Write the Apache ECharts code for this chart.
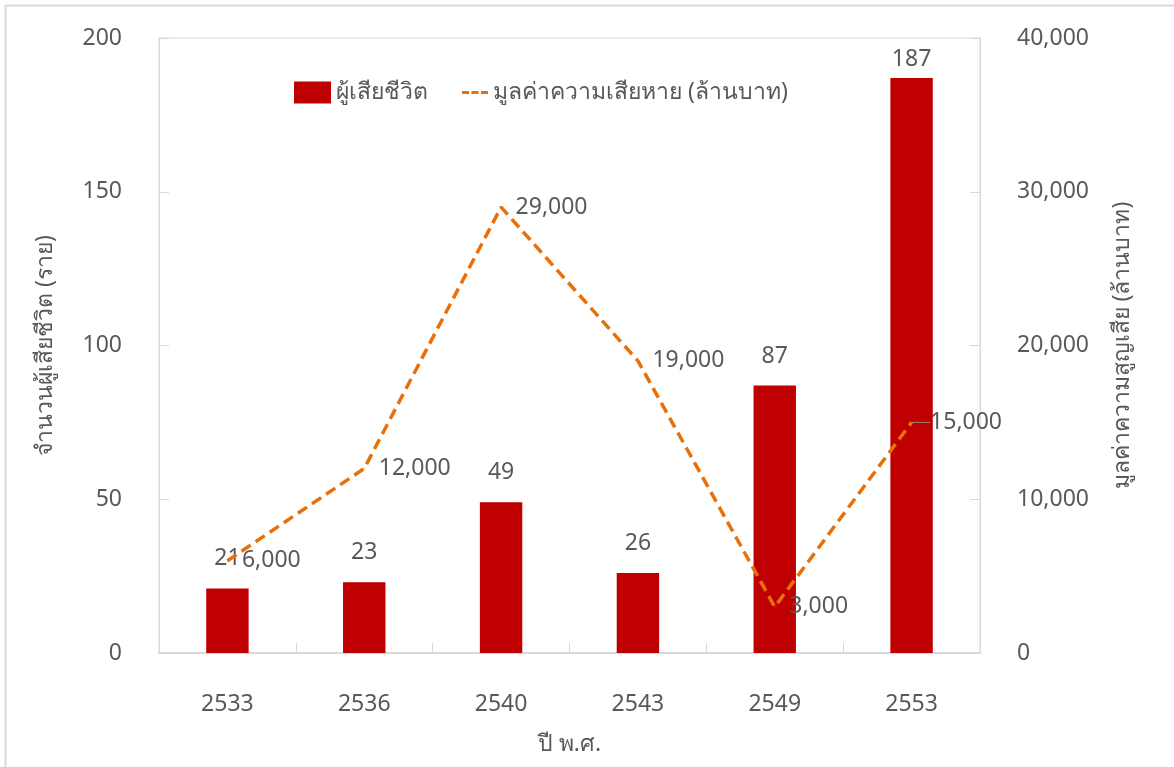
<!DOCTYPE html>
<html>
<head>
<meta charset="utf-8">
<script src="https://cdn.jsdelivr.net/npm/echarts@6/dist/echarts.min.js"></script>
<style>
  html, body { margin: 0; padding: 0; background: #fff; }
  #chart { width: 1174px; height: 767px; }
</style>
</head>
<body>
<div id="chart"></div>
<script>
// Years (Buddhist Era)
const years = ['2533', '2536', '2540', '2543', '2549', '2553'];
// Deaths per event (persons)
const deaths = [21, 23, 49, 26, 87, 187];
// Damage value (million baht)
const damage = [6000, 12000, 29000, 19000, 3000, 15000];
// Axis ticks
const leftTicks = [0, 50, 100, 150, 200];
const rightTicks = [0, 10000, 20000, 30000, 40000];

const seriesNames = ['ผู้เสียชีวิต', 'มูลค่าความเสียหาย (ล้านบาท)'];
const axisNames = { x: 'ปี พ.ศ.', left: 'จำนวนผู้เสียชีวิต (ราย)', right: 'มูลค่าความสูญเสีย (ล้านบาท)' };

const FONT = '"Noto Sans", "Open Sans", sans-serif';
const TEXT = '#595959';
const GRID_LINE = '#d9d9d9';
const BAR = '#C00000';
const LINE = '#E8700A';
const FS = 23;

const fmt = v => Number(v).toLocaleString('en-US');
const last = damage.length - 1;

const chart = echarts.init(document.getElementById('chart'), null, { renderer: 'canvas' });

chart.setOption({
  backgroundColor: '#fff',
  textStyle: { fontFamily: FONT, color: TEXT },
  animation: false,
  graphic: [{
    type: 'rect',
    shape: { x: 5.5, y: 5.5, width: 1300, height: 900 },
    style: { fill: 'none', stroke: GRID_LINE, lineWidth: 2 },
    silent: true
  }],
  legend: [{
    data: [{ name: seriesNames[0], icon: 'rect' }],
    left: 289, top: 76,
    itemWidth: 37, itemHeight: 22, itemGap: 5,
    textStyle: { fontSize: FS, color: TEXT, fontFamily: FONT }
  }, {
    data: [{ name: seriesNames[1], icon: 'path://M0,0h7v3h-7zM9.5,0h7v3h-7zM19,0h7v3h-7z' }],
    left: 457, top: 76,
    itemWidth: 26, itemHeight: 3, itemGap: 5,
    textStyle: { fontSize: FS, color: TEXT, fontFamily: FONT }
  }],
  grid: {
    left: 159, right: 194, top: 38, bottom: 114,
    show: true, borderColor: GRID_LINE, borderWidth: 1, backgroundColor: 'transparent'
  },
  xAxis: {
    type: 'category',
    data: years,
    name: axisNames.x,
    nameLocation: 'middle',
    nameGap: 80,
    nameTextStyle: { fontSize: FS, color: TEXT, fontFamily: FONT },
    axisLine: { lineStyle: { color: GRID_LINE, width: 2 } },
    axisTick: { show: true, inside: true, length: 10, lineStyle: { color: GRID_LINE } },
    axisLabel: { fontSize: FS, color: TEXT, margin: 40, fontFamily: FONT },
    splitLine: { show: false }
  },
  yAxis: [{
    type: 'value',
    min: leftTicks[0], max: leftTicks[leftTicks.length - 1], interval: 50,
    name: axisNames.left,
    nameLocation: 'middle',
    nameGap: 102,
    nameRotate: 90,
    nameTextStyle: { fontSize: FS, color: TEXT, fontFamily: FONT },
    axisLine: { show: true, lineStyle: { color: GRID_LINE, width: 1 } },
    axisTick: { show: true, inside: true, length: 10, lineStyle: { color: GRID_LINE } },
    axisLabel: { fontSize: FS, color: TEXT, margin: 37, fontFamily: FONT },
    splitLine: { show: false }
  }, {
    type: 'value',
    position: 'right',
    min: rightTicks[0], max: rightTicks[rightTicks.length - 1], interval: 10000,
    name: axisNames.right,
    nameLocation: 'middle',
    nameGap: 131,
    nameRotate: 90,
    nameTextStyle: { fontSize: FS, color: TEXT, fontFamily: FONT },
    axisLine: { show: true, lineStyle: { color: GRID_LINE, width: 1 } },
    axisTick: { show: true, inside: true, length: 10, lineStyle: { color: GRID_LINE } },
    axisLabel: { fontSize: FS, color: TEXT, margin: 37, fontFamily: FONT, formatter: fmt },
    splitLine: { show: false }
  }],
  series: [{
    name: seriesNames[0],
    type: 'bar',
    yAxisIndex: 0,
    barWidth: '31%',
    itemStyle: { color: BAR },
    data: deaths.map((v, i) => i === deaths.length - 1
      ? { value: v, label: { distance: 7 } }
      : v),
    label: {
      show: true, position: 'top', distance: 18,
      fontSize: FS, color: TEXT, fontFamily: FONT
    },
    z: 2
  }, {
    name: seriesNames[1],
    type: 'line',
    yAxisIndex: 1,
    data: damage.map((v, i) => i === last
      ? { value: v, labelLine: { show: true, lineStyle: { color: '#8c8c8c', width: 1 } } }
      : v),
    symbol: 'circle',
    symbolSize: 1,
    showSymbol: true,
    itemStyle: { color: LINE },
    lineStyle: { color: LINE, width: 3.5, type: [11, 6] },
    label: {
      show: true, position: 'right', distance: 14,
      fontSize: FS, color: TEXT, fontFamily: FONT,
      formatter: p => fmt(p.value)
    },
    labelLayout: p => p.dataIndex === last ? { dx: 4 } : {},
    labelLine: { show: false },
    z: 3
  }]
});
</script>
</body>
</html>
